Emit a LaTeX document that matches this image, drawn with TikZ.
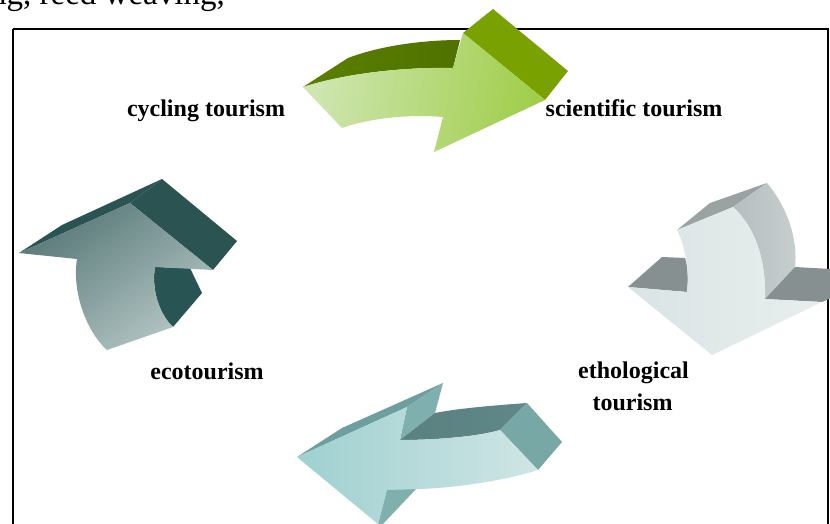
\documentclass[tikz,border=0pt]{standalone}
\usepackage{fontspec}
\setmainfont{Liberation Serif}
\definecolor{gTop}{HTML}{5B7F00}
\definecolor{gTopB}{HTML}{4F7200}
\definecolor{gSide}{HTML}{79A100}
\definecolor{gFL}{HTML}{CFE6B2}
\definecolor{gFR}{HTML}{A0CE4A}
\definecolor{tDark}{HTML}{2A5352}
\definecolor{tFD}{HTML}{587878}
\definecolor{tFL}{HTML}{B4C7C5}
\definecolor{rTop}{HTML}{9AA2A2}
\definecolor{rSide}{HTML}{B6BFBF}
\definecolor{rSideB}{HTML}{C6CECE}
\definecolor{rWing}{HTML}{879090}
\definecolor{rFL}{HTML}{DAE4E4}
\definecolor{rFR}{HTML}{E8EEEE}
\definecolor{bTop}{HTML}{6E9E9E}
\definecolor{bSide}{HTML}{80B0AE}
\definecolor{bShaft}{HTML}{5A8080}
\definecolor{bEnd}{HTML}{78A8A6}
\definecolor{bFL}{HTML}{9FD0D0}
\definecolor{bFR}{HTML}{CFE5E5}
\begin{document}
\begin{tikzpicture}[x=1pt,y=-1pt,
  lbl/.style={font=\fontsize{24}{32}\selectfont\bfseries, anchor=base, inner sep=0pt},
  face/.style={draw=none}]
\useasboundingbox (0,0) rectangle (830,524);
\fill[white] (0,0) rectangle (830,524);

% partial text at top
\node[anchor=base west, inner sep=0pt, font=\fontsize{33}{36}\selectfont] (hdr) at (-10,4.5) {ng, reed weaving,};

% frame
\draw[line width=2pt] (12.5,29.5) -- (827.5,29.5) -- (827.5,540) (12.5,29.5) -- (12.5,540);

% ---------- top green arrow ----------
\shade[face, left color=gTop, right color=gTopB]
  (303,87) -- (348,58) .. controls (385,44) and (430,40) .. (460,40)
  -- (453,68) .. controls (410,67) and (350,72) .. (303,87) -- cycle;
\fill[gSide] (463,33) -- (493,9) -- (568,71) -- (545,100) -- cycle;
\shade[face, left color=gFL, right color=gFR, shading angle=80]
  (303,87) .. controls (350,72) and (410,67) .. (453,68)
  -- (463,33) -- (545,100) -- (434,152) -- (443,117)
  .. controls (410,114) and (370,118) .. (342,128) -- cycle;

% ---------- left dark teal arrow ----------
\fill[tDark] (19,253) -- (62,225) -- (162,179) -- (130,203) -- cycle;
\fill[tDark] (130,203) -- (162,179) -- (237,241) -- (213,270) -- cycle;
\fill[tDark!95!teal] (155,267) -- (190,268) -- (202,293) -- (173,327)
  .. controls (160,315) and (151,290) .. (155,267) -- cycle;
\shade[face, top color=tFD, bottom color=tFL, shading angle=35]
  (19,253) -- (130,203) -- (213,270) -- (155,267)
  .. controls (151,290) and (160,315) .. (173,327)
  -- (107,350) .. controls (85,330) and (72,290) .. (77,259) -- cycle;

% ---------- right light gray arrow ----------
\fill[rTop] (677,230) -- (710,203) -- (767,183) -- (733,207) -- cycle;
\shade[face, left color=rSide, right color=rSideB]
  (733,207) -- (767,183) .. controls (788,208) and (798,240) .. (795,267)
  -- (765,299) .. controls (766,265) and (758,230) .. (733,207) -- cycle;
\fill[rWing] (765,299) -- (795,267) -- (831,269) -- (831,298) -- (822,302) -- cycle;
\fill[rWing] (628,287) -- (662,257) -- (685,258) .. controls (689,270) and (688,282) .. (687,292) -- cycle;
\shade[face, left color=rFL, right color=rFR]
  (677,230) -- (733,207) .. controls (758,230) and (766,265) .. (765,299)
  -- (822,302) -- (712,355) -- (628,287) -- (687,292)
  .. controls (689,272) and (686,248) .. (677,230) -- cycle;

% ---------- bottom teal arrow ----------
\fill[bTop] (297,457) -- (342,428) -- (443,383) -- (407,407) -- cycle;
\fill[bSide] (407,407) -- (443,383) -- (435,413) -- (400,440) -- cycle;
\shade[face, left color=bShaft, right color=bShaft!80!bEnd]
  (400,440) -- (435,413) .. controls (460,408) and (500,405) .. (527,403)
  -- (500,430) .. controls (480,436) and (440,440) .. (400,440) -- cycle;
\fill[bEnd] (500,430) -- (527,403) -- (562,442) -- (538,470) -- cycle;
\fill[bSide] (387,489) -- (417,488) -- (383,524) -- (378,524) -- cycle;
\shade[face, left color=bFL, right color=bFR]
  (297,457) -- (407,407) -- (400,440) .. controls (440,440) and (480,436) .. (500,430)
  -- (538,470) .. controls (500,482) and (450,488) .. (420,489)
  -- (387,490) -- (378,524) -- cycle;

% ---------- labels ----------
\node[lbl] (cyc) at (206,117) {cycling tourism};
\node[lbl] (sci) at (634,117) {scientific tourism};
\node[lbl] (eco) at (207,379) {ecotourism};
\node[lbl] (eth1) at (633.5,378) {ethological};
\node[lbl] (eth2) at (632.5,410) {tourism};
\end{tikzpicture}
\end{document}
